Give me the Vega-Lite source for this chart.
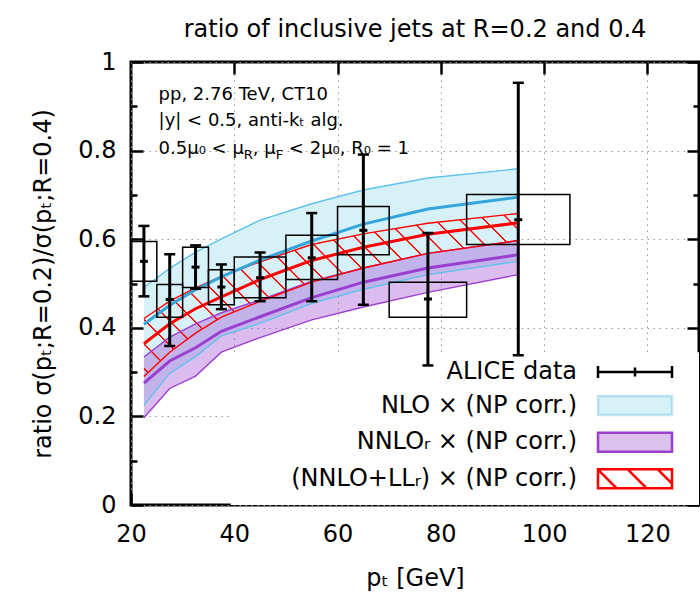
{
  "$schema": "https://vega.github.io/schema/vega-lite/v6.json",
  "width": 568,
  "height": 443,
  "autosize": "none",
  "padding": {"left": 131, "top": 62, "right": 1, "bottom": 87},
  "title": {"text": "ratio of inclusive jets at R=0.2 and 0.4", "fontSize": 24, "fontWeight": "normal", "color": "black", "anchor": "middle", "frame": "group", "baseline": "bottom", "offset": -16},
  "config": {"font": "DejaVu Sans", "view": {"stroke": "black", "strokeWidth": 3}, "background": "white"},
  "datasets": {
    "curves": [
      {"k": "nlo", "s": "NLO × (NP corr.)", "pt": 22.5, "lo": 0.225, "c": 0.408, "hi": 0.491},
      {"k": "nlo", "s": "NLO × (NP corr.)", "pt": 27.5, "lo": 0.297, "c": 0.451, "hi": 0.534},
      {"k": "nlo", "s": "NLO × (NP corr.)", "pt": 32.5, "lo": 0.335, "c": 0.486, "hi": 0.571},
      {"k": "nlo", "s": "NLO × (NP corr.)", "pt": 37.5, "lo": 0.382, "c": 0.515, "hi": 0.601},
      {"k": "nlo", "s": "NLO × (NP corr.)", "pt": 45, "lo": 0.410, "c": 0.553, "hi": 0.643},
      {"k": "nlo", "s": "NLO × (NP corr.)", "pt": 55, "lo": 0.455, "c": 0.596, "hi": 0.680},
      {"k": "nlo", "s": "NLO × (NP corr.)", "pt": 65, "lo": 0.487, "c": 0.634, "hi": 0.711},
      {"k": "nlo", "s": "NLO × (NP corr.)", "pt": 77.5, "lo": 0.520, "c": 0.668, "hi": 0.738},
      {"k": "nlo", "s": "NLO × (NP corr.)", "pt": 95, "lo": 0.550, "c": 0.695, "hi": 0.759},
      {"k": "nnlo", "s": "NNLOᵣ × (NP corr.)", "pt": 22.5, "lo": 0.197, "c": 0.275, "hi": 0.334},
      {"k": "nnlo", "s": "NNLOᵣ × (NP corr.)", "pt": 27.5, "lo": 0.263, "c": 0.325, "hi": 0.379},
      {"k": "nnlo", "s": "NNLOᵣ × (NP corr.)", "pt": 32.5, "lo": 0.291, "c": 0.355, "hi": 0.409},
      {"k": "nnlo", "s": "NNLOᵣ × (NP corr.)", "pt": 37.5, "lo": 0.345, "c": 0.392, "hi": 0.434},
      {"k": "nnlo", "s": "NNLOᵣ × (NP corr.)", "pt": 45, "lo": 0.378, "c": 0.425, "hi": 0.463},
      {"k": "nnlo", "s": "NNLOᵣ × (NP corr.)", "pt": 55, "lo": 0.418, "c": 0.468, "hi": 0.505},
      {"k": "nnlo", "s": "NNLOᵣ × (NP corr.)", "pt": 65, "lo": 0.447, "c": 0.503, "hi": 0.535},
      {"k": "nnlo", "s": "NNLOᵣ × (NP corr.)", "pt": 77.5, "lo": 0.480, "c": 0.535, "hi": 0.568},
      {"k": "nnlo", "s": "NNLOᵣ × (NP corr.)", "pt": 95, "lo": 0.520, "c": 0.565, "hi": 0.597},
      {"k": "res", "s": "(NNLO+LLᵣ) × (NP corr.)", "pt": 22.5, "lo": 0.290, "c": 0.364, "hi": 0.421},
      {"k": "res", "s": "(NNLO+LLᵣ) × (NP corr.)", "pt": 27.5, "lo": 0.345, "c": 0.409, "hi": 0.460},
      {"k": "res", "s": "(NNLO+LLᵣ) × (NP corr.)", "pt": 32.5, "lo": 0.388, "c": 0.443, "hi": 0.490},
      {"k": "res", "s": "(NNLO+LLᵣ) × (NP corr.)", "pt": 37.5, "lo": 0.424, "c": 0.470, "hi": 0.516},
      {"k": "res", "s": "(NNLO+LLᵣ) × (NP corr.)", "pt": 45, "lo": 0.460, "c": 0.509, "hi": 0.549},
      {"k": "res", "s": "(NNLO+LLᵣ) × (NP corr.)", "pt": 55, "lo": 0.503, "c": 0.552, "hi": 0.588},
      {"k": "res", "s": "(NNLO+LLᵣ) × (NP corr.)", "pt": 65, "lo": 0.535, "c": 0.582, "hi": 0.612},
      {"k": "res", "s": "(NNLO+LLᵣ) × (NP corr.)", "pt": 77.5, "lo": 0.568, "c": 0.611, "hi": 0.636},
      {"k": "res", "s": "(NNLO+LLᵣ) × (NP corr.)", "pt": 95, "lo": 0.597, "c": 0.637, "hi": 0.658}
    ],
    "alice": [
      {"pt": 22.5, "bl": 20, "bh": 25, "v": 0.550, "el": 0.471, "eh": 0.630, "sl": 0.505, "sh": 0.595},
      {"pt": 27.5, "bl": 25, "bh": 30, "v": 0.464, "el": 0.359, "eh": 0.566, "sl": 0.424, "sh": 0.4975},
      {"pt": 32.5, "bl": 30, "bh": 35, "v": 0.537, "el": 0.488, "eh": 0.586, "sl": 0.491, "sh": 0.582},
      {"pt": 37.5, "bl": 35, "bh": 40, "v": 0.492, "el": 0.442, "eh": 0.543, "sl": 0.452, "sh": 0.531},
      {"pt": 45, "bl": 40, "bh": 50, "v": 0.513, "el": 0.460, "eh": 0.570, "sl": 0.468, "sh": 0.560},
      {"pt": 55, "bl": 50, "bh": 60, "v": 0.558, "el": 0.460, "eh": 0.659, "sl": 0.509, "sh": 0.609},
      {"pt": 65, "bl": 60, "bh": 70, "v": 0.620, "el": 0.452, "eh": 0.791, "sl": 0.565, "sh": 0.674},
      {"pt": 77.5, "bl": 70, "bh": 85, "v": 0.465, "el": 0.315, "eh": 0.614, "sl": 0.424, "sh": 0.503},
      {"pt": 95, "bl": 85, "bh": 105, "v": 0.644, "el": 0.338, "eh": 0.953, "sl": 0.588, "sh": 0.701}
    ]
  },
  "resolve": {"axis": {"x": "independent", "y": "independent"}},
  "layer": [
    {
      "data": {"values": [{}]},
      "mark": {"type": "rect", "fill": "white"},
      "encoding": {
        "x": {"datum": 39.3, "type": "quantitative", "scale": {"domain": [20, 130], "nice": false, "zero": false},
          "axis": {"orient": "bottom", "values": [20, 40, 60, 80, 100, 120], "tickSize": -12, "tickWidth": 2.5, "tickColor": "black", "domain": false,
            "grid": true, "gridColor": "#999999", "gridDash": [1.5, 4.5], "gridWidth": 1,
            "labelFontSize": 24, "labelColor": "black", "labelPadding": 29, "labelFlush": false, "labelOverlap": false,
            "title": "pₜ [GeV]", "titleFontSize": 24, "titleFontWeight": "normal", "titleColor": "black", "titlePadding": 20}},
        "x2": {"datum": 130},
        "y": {"datum": 0, "type": "quantitative", "scale": {"domain": [0, 1], "nice": false, "zero": false},
          "axis": {"orient": "left", "values": [0, 0.1, 0.2, 0.3, 0.4, 0.5, 0.6, 0.7, 0.8, 0.9, 1],
            "tickSize": {"condition": {"test": "round(datum.value*10) % 2 == 1", "value": -6}, "value": -12},
            "tickWidth": 2.5, "tickColor": "black", "domain": false,
            "grid": true, "gridColor": "#999999", "gridDash": [1.5, 4.5], "gridWidth": 1,
            "gridOpacity": {"condition": {"test": "round(datum.value*10) % 2 == 1", "value": 0}, "value": 1},
            "labelExpr": "round(datum.value*10) % 2 == 0 ? format(datum.value, '~g') : ''",
            "labelFontSize": 24, "labelColor": "black", "labelPadding": 27, "labelFlush": false, "labelOverlap": false,
            "title": "ratio σ(pₜ;R=0.2)/σ(pₜ;R=0.4)", "titleFontSize": 24, "titleFontWeight": "normal", "titleColor": "black", "titlePadding": 22}},
        "y2": {"datum": 0.345}
      }
    },
    {
      "data": {"name": "curves"},
      "transform": [{"filter": "datum.k === 'nlo'"}],
      "mark": {"type": "area", "fill": "#d7f1f9"},
      "encoding": {
        "x": {"field": "pt", "type": "quantitative", "axis": {"orient": "top", "values": [40, 60, 80, 100, 120], "tickSize": -12, "tickWidth": 2.5, "tickColor": "black", "labels": false, "domain": false, "grid": false, "title": null}},
        "y": {"field": "lo", "type": "quantitative", "axis": {"orient": "right", "values": [0, 0.1, 0.2, 0.3, 0.4, 0.5, 0.6, 0.7, 0.8, 0.9, 1],
            "tickSize": {"condition": {"test": "round(datum.value*10) % 2 == 1", "value": -6}, "value": -12},
            "tickWidth": 2.5, "tickColor": "black", "labels": false, "domain": false, "grid": false, "title": null}},
        "y2": {"field": "hi"}
      }
    },
    {
      "data": {"name": "curves"},
      "transform": [{"filter": "datum.k === 'nnlo'"}],
      "mark": {"type": "area", "fill": "#9b40d0", "fillOpacity": 0.35},
      "encoding": {
        "x": {"field": "pt", "type": "quantitative", "axis": null},
        "y": {"field": "lo", "type": "quantitative", "axis": null},
        "y2": {"field": "hi"}
      }
    },
    {
      "data": {"name": "curves"},
      "transform": [{"filter": "datum.k === 'res'"}],
      "mark": {"type": "area", "fill": {"gradient": "linear", "x1": 0, "y1": 1, "x2": 1.2068, "y2": 0.4769, "stops": [
        {"offset": 0.0126, "color": "rgba(255,0,0,0)"}, {"offset": 0.0137, "color": "#ff0000"}, {"offset": 0.0163, "color": "#ff0000"}, {"offset": 0.0174, "color": "rgba(255,0,0,0)"},
        {"offset": 0.0581, "color": "rgba(255,0,0,0)"}, {"offset": 0.0592, "color": "#ff0000"}, {"offset": 0.0618, "color": "#ff0000"}, {"offset": 0.0629, "color": "rgba(255,0,0,0)"},
        {"offset": 0.1036, "color": "rgba(255,0,0,0)"}, {"offset": 0.1047, "color": "#ff0000"}, {"offset": 0.1073, "color": "#ff0000"}, {"offset": 0.1084, "color": "rgba(255,0,0,0)"},
        {"offset": 0.1491, "color": "rgba(255,0,0,0)"}, {"offset": 0.1502, "color": "#ff0000"}, {"offset": 0.1528, "color": "#ff0000"}, {"offset": 0.1539, "color": "rgba(255,0,0,0)"},
        {"offset": 0.1946, "color": "rgba(255,0,0,0)"}, {"offset": 0.1957, "color": "#ff0000"}, {"offset": 0.1983, "color": "#ff0000"}, {"offset": 0.1994, "color": "rgba(255,0,0,0)"},
        {"offset": 0.2401, "color": "rgba(255,0,0,0)"}, {"offset": 0.2412, "color": "#ff0000"}, {"offset": 0.2438, "color": "#ff0000"}, {"offset": 0.2449, "color": "rgba(255,0,0,0)"},
        {"offset": 0.2856, "color": "rgba(255,0,0,0)"}, {"offset": 0.2867, "color": "#ff0000"}, {"offset": 0.2893, "color": "#ff0000"}, {"offset": 0.2904, "color": "rgba(255,0,0,0)"},
        {"offset": 0.3311, "color": "rgba(255,0,0,0)"}, {"offset": 0.3322, "color": "#ff0000"}, {"offset": 0.3348, "color": "#ff0000"}, {"offset": 0.3359, "color": "rgba(255,0,0,0)"},
        {"offset": 0.3766, "color": "rgba(255,0,0,0)"}, {"offset": 0.3777, "color": "#ff0000"}, {"offset": 0.3803, "color": "#ff0000"}, {"offset": 0.3814, "color": "rgba(255,0,0,0)"},
        {"offset": 0.4221, "color": "rgba(255,0,0,0)"}, {"offset": 0.4232, "color": "#ff0000"}, {"offset": 0.4258, "color": "#ff0000"}, {"offset": 0.4269, "color": "rgba(255,0,0,0)"},
        {"offset": 0.4676, "color": "rgba(255,0,0,0)"}, {"offset": 0.4687, "color": "#ff0000"}, {"offset": 0.4713, "color": "#ff0000"}, {"offset": 0.4724, "color": "rgba(255,0,0,0)"},
        {"offset": 0.5131, "color": "rgba(255,0,0,0)"}, {"offset": 0.5142, "color": "#ff0000"}, {"offset": 0.5168, "color": "#ff0000"}, {"offset": 0.5179, "color": "rgba(255,0,0,0)"},
        {"offset": 0.5586, "color": "rgba(255,0,0,0)"}, {"offset": 0.5597, "color": "#ff0000"}, {"offset": 0.5623, "color": "#ff0000"}, {"offset": 0.5634, "color": "rgba(255,0,0,0)"},
        {"offset": 0.6041, "color": "rgba(255,0,0,0)"}, {"offset": 0.6052, "color": "#ff0000"}, {"offset": 0.6078, "color": "#ff0000"}, {"offset": 0.6089, "color": "rgba(255,0,0,0)"},
        {"offset": 0.6496, "color": "rgba(255,0,0,0)"}, {"offset": 0.6507, "color": "#ff0000"}, {"offset": 0.6533, "color": "#ff0000"}, {"offset": 0.6544, "color": "rgba(255,0,0,0)"},
        {"offset": 0.6951, "color": "rgba(255,0,0,0)"}, {"offset": 0.6962, "color": "#ff0000"}, {"offset": 0.6988, "color": "#ff0000"}, {"offset": 0.6999, "color": "rgba(255,0,0,0)"},
        {"offset": 0.7406, "color": "rgba(255,0,0,0)"}, {"offset": 0.7417, "color": "#ff0000"}, {"offset": 0.7443, "color": "#ff0000"}, {"offset": 0.7454, "color": "rgba(255,0,0,0)"},
        {"offset": 0.7861, "color": "rgba(255,0,0,0)"}, {"offset": 0.7872, "color": "#ff0000"}, {"offset": 0.7898, "color": "#ff0000"}, {"offset": 0.7909, "color": "rgba(255,0,0,0)"},
        {"offset": 0.8316, "color": "rgba(255,0,0,0)"}, {"offset": 0.8327, "color": "#ff0000"}, {"offset": 0.8353, "color": "#ff0000"}, {"offset": 0.8364, "color": "rgba(255,0,0,0)"},
        {"offset": 0.8771, "color": "rgba(255,0,0,0)"}, {"offset": 0.8782, "color": "#ff0000"}, {"offset": 0.8808, "color": "#ff0000"}, {"offset": 0.8819, "color": "rgba(255,0,0,0)"},
        {"offset": 0.9226, "color": "rgba(255,0,0,0)"}, {"offset": 0.9237, "color": "#ff0000"}, {"offset": 0.9263, "color": "#ff0000"}, {"offset": 0.9274, "color": "rgba(255,0,0,0)"},
        {"offset": 0.9681, "color": "rgba(255,0,0,0)"}, {"offset": 0.9692, "color": "#ff0000"}, {"offset": 0.9718, "color": "#ff0000"}, {"offset": 0.9729, "color": "rgba(255,0,0,0)"}
      ]}},
      "encoding": {
        "x": {"field": "pt", "type": "quantitative", "axis": null},
        "y": {"field": "lo", "type": "quantitative", "axis": null},
        "y2": {"field": "hi"}
      }
    },
    {
      "data": {"name": "curves"},
      "transform": [{"fold": ["lo", "hi"], "as": ["edge", "val"]}],
      "mark": {"type": "line", "strokeWidth": 1.4},
      "encoding": {
        "x": {"field": "pt", "type": "quantitative", "axis": null},
        "y": {"field": "val", "type": "quantitative", "axis": null},
        "detail": [{"field": "k"}, {"field": "edge"}],
        "color": {"field": "k", "type": "nominal", "scale": {"domain": ["nlo", "nnlo", "res"], "range": ["#5fc2ea", "#9b40d0", "#ff0000"]}, "legend": null}
      }
    },
    {
      "data": {"name": "curves"},
      "mark": {"type": "line", "strokeWidth": 3},
      "encoding": {
        "x": {"field": "pt", "type": "quantitative", "axis": null},
        "y": {"field": "c", "type": "quantitative", "axis": null},
        "stroke": {"field": "s", "type": "nominal",
          "scale": {"domain": ["ALICE data", "NLO × (NP corr.)", "NNLOᵣ × (NP corr.)", "(NNLO+LLᵣ) × (NP corr.)"], "range": ["#000000", "#35a5dc", "#9a3fd0", "#ff0000"]},
          "legend": {
            "orient": "bottom-right", "offset": 6, "padding": 5, "title": null,
            "labelFontSize": 24, "labelColor": "black", "labelAlign": "right", "labelBaseline": "middle", "labelLimit": 0,
            "rowPadding": 6.6, "symbolLimit": 0, "symbolSize": 100, "symbolStrokeWidth": 2.5,
            "encode": {
              "symbols": {"update": {
                "x": {"value": 58},
                "shape": {"signal": "['M-75.6,0M9.45,0M-7.4,0H7.4M-7.4,-1.184V1.184M7.4,-1.184V1.184M0,-0.888V0.888', 'M-75.6,0M9.45,0M-7.4,-1.9H7.4V1.9H-7.4Z', 'M-75.6,0M9.45,0M-7.4,-1.9H7.4V1.9H-7.4Z', 'M-75.6,0M9.45,0M-7.4,-1.9H7.4V1.9H-7.4ZM-7.4,-1.85L-3.648,1.9M-1.458,-1.9L2.346,1.9M4.536,-1.9L7.4,0.962'][datum.index]"},
                "fill": {"signal": "['transparent', '#d7f1f9', '#dcc1ec', 'transparent'][datum.index]"},
                "strokeOpacity": {"signal": "[1, 0.28, 1, 1][datum.index]"},
                "opacity": {"value": 1}
              }},
              "labels": {"update": {"x": {"value": 0}, "align": {"value": "right"}}}
            }
          }
        }
      }
    },
    {
      "data": {"name": "alice"},
      "mark": {"type": "rect", "fill": "transparent", "stroke": "black", "strokeWidth": 1.5},
      "encoding": {
        "x": {"field": "bl", "type": "quantitative", "axis": null},
        "x2": {"field": "bh"},
        "y": {"field": "sl", "type": "quantitative", "axis": null},
        "y2": {"field": "sh"}
      }
    },
    {
      "data": {"name": "alice"},
      "mark": {"type": "rule", "strokeWidth": 3, "color": "black"},
      "encoding": {
        "x": {"field": "pt", "type": "quantitative", "axis": null},
        "y": {"field": "el", "type": "quantitative", "axis": null},
        "y2": {"field": "eh"}
      }
    },
    {
      "data": {"name": "alice"},
      "transform": [{"fold": ["el", "eh"], "as": ["end", "ev"]}],
      "mark": {"type": "tick", "orient": "horizontal", "size": 11, "thickness": 2.5, "color": "black", "opacity": 1},
      "encoding": {
        "x": {"field": "pt", "type": "quantitative", "axis": null},
        "y": {"field": "ev", "type": "quantitative", "axis": null}
      }
    },
    {
      "data": {"name": "alice"},
      "mark": {"type": "tick", "orient": "horizontal", "size": 8, "thickness": 3, "color": "black", "opacity": 1},
      "encoding": {
        "x": {"field": "pt", "type": "quantitative", "axis": null},
        "y": {"field": "v", "type": "quantitative", "axis": null}
      }
    },
    {
      "data": {"values": [{}]},
      "mark": {"type": "text", "text": "pp, 2.76 TeV, CT10", "align": "left", "baseline": "alphabetic", "fontSize": 18, "color": "black"},
      "encoding": {"x": {"datum": 25.34, "type": "quantitative", "axis": null}, "y": {"datum": 0.915, "type": "quantitative", "axis": null}}
    },
    {
      "data": {"values": [{}]},
      "mark": {"type": "text", "text": "|y| < 0.5, anti-kₜ alg.", "align": "left", "baseline": "alphabetic", "fontSize": 18, "color": "black"},
      "encoding": {"x": {"datum": 25.34, "type": "quantitative", "axis": null}, "y": {"datum": 0.8546, "type": "quantitative", "axis": null}}
    },
    {
      "data": {"values": [{}]},
      "mark": {"type": "text", "text": "0.5μ₀ < μ", "align": "left", "baseline": "alphabetic", "fontSize": 18, "color": "black"},
      "encoding": {"x": {"datum": 25.34, "type": "quantitative", "axis": null}, "y": {"datum": 0.7917, "type": "quantitative", "axis": null}}
    },
    {
      "data": {"values": [{}]},
      "mark": {"type": "text", "text": "R", "align": "left", "baseline": "alphabetic", "fontSize": 13, "dx": 85.2, "dy": 5, "color": "black"},
      "encoding": {"x": {"datum": 25.34, "type": "quantitative", "axis": null}, "y": {"datum": 0.7917, "type": "quantitative", "axis": null}}
    },
    {
      "data": {"values": [{}]},
      "mark": {"type": "text", "text": ", μ", "align": "left", "baseline": "alphabetic", "fontSize": 18, "dx": 94.2, "color": "black"},
      "encoding": {"x": {"datum": 25.34, "type": "quantitative", "axis": null}, "y": {"datum": 0.7917, "type": "quantitative", "axis": null}}
    },
    {
      "data": {"values": [{}]},
      "mark": {"type": "text", "text": "F", "align": "left", "baseline": "alphabetic", "fontSize": 13, "dx": 117.1, "dy": 5, "color": "black"},
      "encoding": {"x": {"datum": 25.34, "type": "quantitative", "axis": null}, "y": {"datum": 0.7917, "type": "quantitative", "axis": null}}
    },
    {
      "data": {"values": [{}]},
      "mark": {"type": "text", "text": "< 2μ₀, R₀ = 1", "align": "left", "baseline": "alphabetic", "fontSize": 18, "dx": 130.3, "color": "black"},
      "encoding": {"x": {"datum": 25.34, "type": "quantitative", "axis": null}, "y": {"datum": 0.7917, "type": "quantitative", "axis": null}}
    }
  ]
}
